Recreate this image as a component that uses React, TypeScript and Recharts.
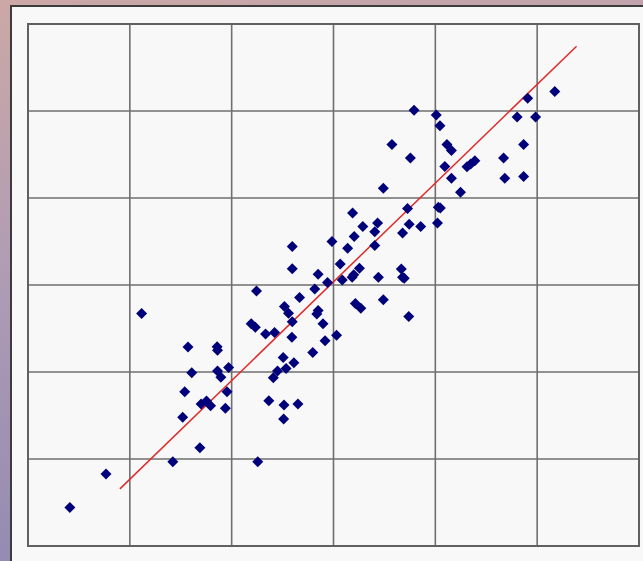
import React from "react";
import {
  ScatterChart,
  Scatter,
  XAxis,
  YAxis,
  CartesianGrid,
  ReferenceLine,
  ReferenceArea,
} from "recharts";

const gridTicks = [0, 1, 2, 3, 4, 5, 6];

const xValues = [
  0.411, 0.766, 1.116, 1.422, 1.688, 1.519, 1.539, 1.608, 1.571, 1.7,
  1.753, 1.793, 1.857, 1.861, 1.861, 1.894, 1.97, 1.954, 1.938, 2.256,
  2.244, 2.192, 2.232, 2.333, 2.421, 2.365, 2.409, 2.45, 2.506, 2.534,
  2.611, 2.514, 2.651, 2.51, 2.591, 2.595, 2.518, 2.558, 2.667, 2.595,
  2.595, 2.796, 2.917, 3.03, 2.897, 2.836, 2.849, 2.816, 2.849, 2.941,
  2.985, 3.066, 3.086, 3.183, 3.199, 3.255, 3.139, 3.203, 3.187, 3.288,
  3.405, 3.433, 3.405, 3.441, 3.215, 3.268, 3.489, 3.666, 3.678, 3.695,
  3.739, 3.678, 3.743, 3.856, 3.727, 3.489, 3.574, 3.755, 3.791, 4.009,
  4.045, 4.114, 4.158, 4.093, 4.158, 4.247, 4.311, 4.347, 4.388, 4.029,
  4.049, 4.021, 4.67, 4.682, 4.867, 4.867, 4.803, 4.984, 4.907, 5.173,
];

const yValues = [
  0.443, 0.829, 2.671, 0.968, 1.128, 1.481, 1.773, 1.99, 2.286, 1.633,
  1.666, 1.613, 2.29, 2.249, 2.011, 1.941, 2.052, 1.773, 1.584, 0.968,
  2.93, 2.556, 2.515, 2.437, 2.454, 1.67, 1.933, 2.011, 2.167, 2.039,
  2.105, 1.621, 1.633, 1.461, 2.4, 2.577, 2.753, 2.675, 2.856, 3.188,
  3.443, 2.224, 2.359, 2.421, 2.556, 2.667, 2.708, 2.954, 3.123, 3.028,
  3.5, 3.242, 3.057, 3.09, 3.119, 3.192, 3.422, 3.558, 3.828, 3.673,
  3.611, 3.714, 3.455, 3.09, 2.786, 2.733, 2.831, 3.184, 3.09, 3.078,
  2.638, 3.599, 3.697, 3.673, 3.878, 4.112, 4.616, 4.46, 5.01, 4.953,
  4.83, 4.616, 4.547, 4.362, 4.226, 4.066, 4.358, 4.391, 4.428, 3.894,
  3.886, 3.714, 4.46, 4.226, 4.616, 4.247, 4.932, 4.932, 5.146, 5.224,
];

const fitX = [0.9025, 5.387];
const fitY = [0.657, 5.745];

const points = xValues.map((x, i) => ({ x, y: yValues[i] }));
const fitSegment = fitX.map((x, i) => ({ x, y: fitY[i] }));

const Diamond = (props: any) => {
  const { cx, cy } = props;
  if (cx == null || cy == null) return null;
  const r = 5.5;
  return (
    <path
      d={`M${cx},${cy - r}L${cx + r},${cy}L${cx},${cy + r}L${cx - r},${cy}Z`}
      fill="#00007a"
    />
  );
};

export default function App() {
  return (
    <div
      style={{
        position: "absolute",
        left: 0,
        top: 0,
        width: 643,
        height: 561,
        overflow: "hidden",
        background:
          "linear-gradient(170deg, #cca8a6 0%, #b09cb4 40%, #8a84b2 100%)",
      }}
    >
      <div
        style={{
          position: "absolute",
          left: 10,
          top: 5,
          width: 640,
          height: 560,
          background: "#f8f8f8",
          borderLeft: "2px solid #3c3c3c",
          borderTop: "2px solid #3c3c3c",
        }}
      />
      <div style={{ position: "absolute", left: 0, top: 0 }}>
        <ScatterChart
          width={643}
          height={561}
          margin={{ top: 24, left: 28, right: 4, bottom: 15 }}
        >
          <XAxis
            type="number"
            dataKey="x"
            domain={[0, 6]}
            ticks={gridTicks}
            hide
          />
          <YAxis
            type="number"
            dataKey="y"
            domain={[0, 6]}
            ticks={gridTicks}
            hide
          />
          <CartesianGrid stroke="#6f6f6f" strokeWidth={1.6} />
          <ReferenceArea
            x1={0}
            x2={6}
            y1={0}
            y2={6}
            fill="none"
            fillOpacity={0}
            stroke="#606060"
            strokeWidth={2}
          />
          <ReferenceLine
            segment={fitSegment}
            stroke="#e02a2a"
            strokeWidth={1.5}
          />
          <Scatter
            data={points}
            shape={Diamond}
            isAnimationActive={false}
          />
        </ScatterChart>
      </div>
    </div>
  );
}
